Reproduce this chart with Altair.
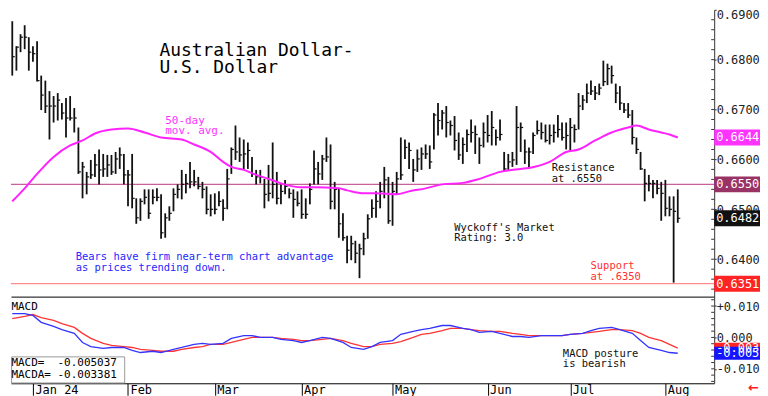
import altair as alt
import pandas as pd

# ---------------- data ----------------
bar_high = [0.6802,0.6825,0.6877,0.6827,0.6851,0.6869,0.6845,0.6827,0.6837,0.6768,
            0.6758,0.6737,0.6727,0.6733,0.6713,0.6723,0.6727,0.6703,0.6664,0.6595,
            0.6575,0.6599,0.6611,0.6620,0.6611,0.6609,0.6609,0.6615,0.6624,0.6611,
            0.6579,0.6611,0.6522,0.6522,0.6540,0.6540,0.6540,0.6542,0.6530,0.6492,
            0.6506,0.6542,0.6550,0.6579,0.6571,0.6595,0.6579,0.6565,0.6555,0.6546,
            0.6530,0.6532,0.6536,0.6520,0.6581,0.6624,0.6668,0.6644,0.6640,0.6634,
            0.6605,0.6579,0.6579,0.6561,0.6589,0.6634,0.6575,0.6550,0.6559,0.6542,
            0.6540,0.6536,0.6540,0.6522,0.6552,0.6618,0.6595,0.6609,0.6644,0.6630,
            0.6555,0.6542,0.6492,0.6447,0.6447,0.6437,0.6431,0.6453,0.6490,0.6520,
            0.6536,0.6555,0.6585,0.6565,0.6555,0.6575,0.6644,0.6640,0.6634,0.6601,
            0.6620,0.6624,0.6630,0.6628,0.6693,0.6713,0.6699,0.6707,0.6678,0.6687,
            0.6654,0.6644,0.6660,0.6680,0.6668,0.6644,0.6674,0.6689,0.6697,0.6660,
            0.6680,0.6615,0.6611,0.6615,0.6707,0.6674,0.6640,0.6624,0.6654,0.6678,
            0.6674,0.6670,0.6670,0.6670,0.6689,0.6674,0.6674,0.6683,0.6670,0.6733,
            0.6729,0.6752,0.6758,0.6747,0.6752,0.6798,0.6792,0.6788,0.6752,0.6747,
            0.6713,0.6713,0.6699,0.6644,0.6615,0.6581,0.6569,0.6559,0.6559,0.6555,
            0.6559,0.6526,0.6526,0.6540]
bar_low = [0.6723,0.6772,0.6768,0.6778,0.6815,0.6821,0.6778,0.6796,0.6756,0.6699,
           0.6693,0.6640,0.6674,0.6678,0.6680,0.6644,0.6678,0.6654,0.6571,0.6522,
           0.6530,0.6561,0.6565,0.6550,0.6565,0.6565,0.6569,0.6571,0.6581,0.6550,
           0.6506,0.6502,0.6471,0.6477,0.6510,0.6481,0.6510,0.6516,0.6441,0.6443,
           0.6477,0.6496,0.6522,0.6520,0.6532,0.6542,0.6546,0.6540,0.6522,0.6490,
           0.6486,0.6490,0.6506,0.6477,0.6500,0.6571,0.6599,0.6595,0.6579,0.6581,
           0.6565,0.6550,0.6552,0.6502,0.6516,0.6522,0.6510,0.6510,0.6530,0.6522,
           0.6483,0.6506,0.6481,0.6481,0.6510,0.6550,0.6550,0.6559,0.6595,0.6500,
           0.6500,0.6443,0.6437,0.6392,0.6398,0.6392,0.6362,0.6408,0.6441,0.6483,
           0.6483,0.6502,0.6522,0.6471,0.6467,0.6530,0.6559,0.6601,0.6581,0.6555,
           0.6575,0.6579,0.6601,0.6581,0.6620,0.6648,0.6660,0.6644,0.6648,0.6618,
           0.6599,0.6591,0.6615,0.6634,0.6611,0.6591,0.6624,0.6634,0.6628,0.6628,
           0.6638,0.6575,0.6579,0.6585,0.6589,0.6615,0.6591,0.6581,0.6611,0.6650,
           0.6640,0.6634,0.6630,0.6634,0.6644,0.6638,0.6620,0.6618,0.6634,0.6660,
           0.6699,0.6713,0.6729,0.6719,0.6729,0.6747,0.6749,0.6752,0.6713,0.6699,
           0.6693,0.6683,0.6630,0.6611,0.6579,0.6516,0.6536,0.6522,0.6530,0.6477,
           0.6486,0.6486,0.6353,0.6473]
bar_close = [0.6798,0.6802,0.6806,0.6825,0.6845,0.6845,0.6815,0.6812,0.6758,0.6729,
             0.6707,0.6707,0.6707,0.6719,0.6693,0.6683,0.6683,0.6683,0.6575,0.6585,
             0.6565,0.6569,0.6589,0.6579,0.6581,0.6589,0.6575,0.6601,0.6609,0.6569,
             0.6569,0.6522,0.6483,0.6516,0.6524,0.6492,0.6524,0.6524,0.6453,0.6483,
             0.6492,0.6530,0.6540,0.6550,0.6552,0.6555,0.6555,0.6546,0.6540,0.6500,
             0.6500,0.6500,0.6516,0.6502,0.6561,0.6620,0.6615,0.6609,0.6611,0.6618,
             0.6571,0.6565,0.6565,0.6530,0.6532,0.6550,0.6522,0.6536,0.6546,0.6532,
             0.6520,0.6512,0.6490,0.6490,0.6540,0.6581,0.6571,0.6601,0.6605,0.6516,
             0.6540,0.6471,0.6443,0.6418,0.6431,0.6412,0.6421,0.6441,0.6481,0.6502,
             0.6516,0.6536,0.6559,0.6477,0.6536,0.6561,0.6569,0.6624,0.6618,0.6579,
             0.6601,0.6611,0.6611,0.6595,0.6689,0.6678,0.6693,0.6674,0.6668,0.6638,
             0.6609,0.6630,0.6650,0.6654,0.6650,0.6628,0.6654,0.6648,0.6664,0.6644,
             0.6650,0.6581,0.6595,0.6599,0.6664,0.6664,0.6615,0.6615,0.6648,0.6658,
             0.6654,0.6638,0.6648,0.6654,0.6660,0.6644,0.6648,0.6664,0.6660,0.6707,
             0.6719,0.6733,0.6737,0.6733,0.6743,0.6756,0.6782,0.6768,0.6733,0.6713,
             0.6699,0.6689,0.6644,0.6620,0.6581,0.6552,0.6552,0.6552,0.6542,0.6532,
             0.6502,0.6500,0.6496,0.6482]

ma_idx = [2,5,8,12,16,19,22,26,30,34,38,43,46,50,53,55,58,61,64,67,72,75,81,83,87,
          90,95,98,102,106,111,115,120,125,127,132,136,139,143,147,151,153,156,159,161,163]
ma_val = [0.6516,0.6542,0.6571,0.6605,0.6628,0.6638,0.6652,0.6660,0.6662,0.6654,
          0.6644,0.6640,0.6630,0.6615,0.6595,0.6585,0.6579,0.6569,0.6561,0.6552,
          0.6544,0.6544,0.6542,0.6538,0.6532,0.6532,0.6530,0.6536,0.6542,0.6550,
          0.6553,0.6561,0.6575,0.6581,0.6583,0.6595,0.6615,0.6620,0.6638,0.6654,
          0.6664,0.6668,0.6660,0.6654,0.6650,0.6644]

macd_idx = [0,2,5,7,9,12,14,17,19,21,24,26,29,31,33,36,38,41,43,46,48,50,53,55,58,
            60,62,65,67,70,72,74,77,79,82,84,87,89,91,94,96,99,101,103,106,108,111,
            113,115,118,120,123,125,127,130,132,135,137,140,142,144,147,149,152,154,
            156,159,161,163]
macd_val = [0.0070,0.0076,0.0076,0.0070,0.0048,0.0035,0.0025,0.0013,-0.0016,-0.0029,
            -0.0035,-0.0032,-0.0032,-0.0041,-0.0048,-0.0044,-0.0048,-0.0038,-0.0032,-0.0022,
            -0.0019,-0.0022,-0.0019,-0.0003,0.0006,0.0006,0.0000,0.0000,-0.0006,-0.0010,
            -0.0016,-0.0010,0.0000,-0.0003,-0.0016,-0.0032,-0.0038,-0.0029,-0.0016,-0.0010,
            0.0010,0.0019,0.0025,0.0029,0.0038,0.0038,0.0029,0.0025,0.0016,0.0019,
            0.0013,0.0003,0.0003,0.0000,0.0006,0.0006,0.0006,0.0010,0.0013,0.0022,
            0.0029,0.0032,0.0025,0.0013,-0.0010,-0.0032,-0.0041,-0.0048,-0.005037]
signal_val = [0.0054,0.0060,0.0067,0.0073,0.0063,0.0054,0.0044,0.0032,0.0013,-0.0003,
              -0.0019,-0.0025,-0.0029,-0.0032,-0.0038,-0.0041,-0.0044,-0.0044,-0.0038,-0.0032,
              -0.0029,-0.0022,-0.0022,-0.0016,-0.0006,0.0000,0.0000,0.0000,-0.0003,-0.0006,
              -0.0010,-0.0010,-0.0006,-0.0003,-0.0010,-0.0019,-0.0029,-0.0029,-0.0022,-0.0019,
              -0.0013,0.0000,0.0010,0.0013,0.0022,0.0029,0.0029,0.0025,0.0022,0.0019,
              0.0019,0.0013,0.0010,0.0006,0.0006,0.0006,0.0006,0.0010,0.0013,0.0016,
              0.0019,0.0025,0.0025,0.0022,0.0013,0.0000,-0.0010,-0.0022,-0.003381]

month_idx = [7, 30, 51, 72, 94, 117, 137, 160]
month_lbl = ["Jan 24", "Feb", "Mar", "Apr", "May", "Jun", "Jul", "Aug"]
price_ticks = [0.64, 0.65, 0.66, 0.67, 0.68, 0.69]
price_minor = [0.634, 0.636, 0.638, 0.640, 0.642, 0.644, 0.646, 0.648, 0.650, 0.652,
               0.654, 0.656, 0.658, 0.660, 0.662, 0.664, 0.666, 0.668, 0.670, 0.672,
               0.674, 0.676, 0.678, 0.680, 0.682, 0.684, 0.686, 0.688]
macd_ticks = [-0.01, 0.0, 0.01]
macd_minor = [-0.014, -0.012, -0.010, -0.008, -0.006, -0.004, -0.002, 0.000,
              0.002, 0.004, 0.006, 0.008, 0.010, 0.012]
resistance = 0.6550
support = 0.6351
hl_price_vals = [0.6644, 0.6550, 0.6482, 0.6351]
hl_price_cols = ["#ff33ff", "#993366", "#111111", "#ff2424"]
hl_macd_vals = [-0.003381, -0.005037]
hl_macd_txt = ["-0.003", "-0.005"]
hl_macd_cols = ["#ff2424", "#1414ff"]
hl_macd_half = [0.0017, 0.0021]
macd_last = -0.005037
macda_last = -0.003381

# ---------------- layout constants ----------------
W, H1, H2 = 706, 288, 87
XDOM = [1.69, 1.69 + 706 / 4.15]
PDOM = [0.6325, 0.6900]
MDOM = [-0.0146, 0.0130]
MONO = "DejaVu Sans Mono"
NB = "\u00a0"
AX = "#333333"

xs = alt.Scale(domain=XDOM, nice=False, zero=False)
ps = alt.Scale(domain=PDOM, nice=False, zero=False)
ms = alt.Scale(domain=MDOM, nice=False, zero=False)
in_view = f"datum.i >= {XDOM[0]}"

x_top_axis = alt.Axis(labels=False, ticks=False, domain=True, domainColor="#000",
                      grid=False, title=None)
expr = "''"
for i, l in reversed(list(zip(month_idx, month_lbl))):
    expr = f"datum.value == {i} ? '{l}' : ({expr})"
x_bot_axis = alt.Axis(values=month_idx, labelExpr=expr, tickSize=12, tickColor="#000",
                      domainColor="#000", labelAlign="left", labelBaseline="top",
                      labelPadding=-11, labelOffset=2, labelFont=MONO, labelFontSize=12,
                      labelColor="#000", grid=False, title=None, labelFlush=False,
                      labelOverlap=False)
p_axis = alt.Axis(orient="right", values=price_ticks, format=".4f", labelFont=MONO,
                  labelFontSize=12, labelColor="#222", tickSize=2, tickColor=AX,
                  domainColor=AX, labelPadding=0, grid=False, title=None,
                  labelFlush=True)
m_expr = ("datum.value > 0.0001 ? '+' + format(datum.value, '.3f') : "
          "(datum.value < -0.0001 ? '-' + format(-datum.value, '.3f') : '\u00a0' + format(0, '.3f'))")
m_axis = alt.Axis(orient="right", values=macd_ticks, labelExpr=m_expr, labelFont=MONO,
                  labelFontSize=12, labelColor="#222", tickSize=2, tickColor=AX,
                  domainColor=AX, labelPadding=0, grid=False, title=None,
                  labelFlush=False)


def xt(f="i"):
    return alt.X(f"{f}:Q", scale=xs, axis=x_top_axis)


def xb(f="i"):
    return alt.X(f"{f}:Q", scale=xs, axis=x_bot_axis)


def py(f):
    return alt.Y(f"{f}:Q", scale=ps, axis=p_axis)


def my(f):
    return alt.Y(f"{f}:Q", scale=ms, axis=m_axis)


# ---------------- price panel ----------------
bars_df = pd.DataFrame({"i": list(range(len(bar_close))), "high": bar_high,
                        "low": bar_low, "close": bar_close})
ma_df = pd.DataFrame({"i": ma_idx, "v": ma_val})
lv_df = pd.DataFrame({"v": [resistance, support], "c": ["#c8609a", "#ff8c8c"]})

levels = alt.Chart(lv_df).mark_rule(strokeWidth=1.2).encode(
    y=py("v"), color=alt.Color("c:N", scale=None))
hl_rule = alt.Chart(bars_df).transform_filter(in_view).mark_rule(
    color="#111", strokeWidth=1.8).encode(x=xt(), y=py("low"), y2="high:Q")
cl_tick = alt.Chart(bars_df).transform_filter(in_view).transform_calculate(
    i2="datum.i + 0.6").mark_rule(color="#111", strokeWidth=1.2).encode(
    x=xt(), x2="i2:Q", y=py("close"))
ma_line = alt.Chart(ma_df).mark_line(color="#ff22ff", strokeWidth=2,
                                     interpolate="monotone").encode(x=xt(), y=py("v"))
p_minor = alt.Chart(pd.DataFrame({"v": price_minor})).mark_rule(
    color=AX, strokeWidth=1).encode(x=alt.value(W - 3), x2=alt.value(W), y=py("v"))


def note(txt, i, v, color, size, lh, xenc, yenc):
    df = pd.DataFrame({"i": [i], "v": [v], "t": [txt]})
    return alt.Chart(df).mark_text(align="left", baseline="alphabetic", font=MONO,
                                   fontSize=size, color=color, lineBreak="\n",
                                   lineHeight=lh).encode(x=xenc("i"), y=yenc("v"), text="t:N")


notes_top = [
    note("Australian Dollar-\nU.S. Dollar", 37.6, 0.6808, "#000", 18, 17, xt, py),
    note("50-day\nmov. avg.", 39.0, 0.6672, "#ff33ff", 11, 10.5, xt, py),
    note("Bears have firm near-term chart advantage\nas prices trending down.",
         17.35, 0.6398, "#2626ff", 10.5, 11, xt, py),
    note("Wyckoff's Market\nRating: 3.0", 108.9, 0.6457, "#111", 10.5, 10.5, xt, py),
    note("Resistance\nat .6550", 132.5, 0.6577, "#111", 10.5, 11, xt, py),
    note("Support\nat .6350", 141.9, 0.6380, "#ff3030", 10.5, 11, xt, py),
]

hp_df = pd.DataFrame({"v": hl_price_vals, "c": hl_price_cols,
                      "t": [f"{v:.4f}" for v in hl_price_vals]})
hp_box = alt.Chart(hp_df).transform_calculate(
    y1="datum.v - 0.0016", y2="datum.v + 0.0016").mark_rect().encode(
    x=alt.value(W), x2=alt.value(752), y=py("y1"), y2="y2:Q",
    color=alt.Color("c:N", scale=None))
hp_txt = alt.Chart(hp_df).mark_text(align="left", baseline="middle", font=MONO,
                                    fontSize=12, color="white").encode(
    x=alt.value(W + 2), y=py("v"), text="t:N")

top = alt.layer(levels, hl_rule, cl_tick, ma_line, p_minor, *notes_top, hp_box,
                hp_txt).properties(width=W, height=H1)

# ---------------- MACD panel ----------------
macd_df = pd.DataFrame({"i": macd_idx, "macd": macd_val, "sig": signal_val})
sig_line = alt.Chart(macd_df).transform_filter(in_view).mark_line(
    color="#ff3434", strokeWidth=1.3).encode(x=xb(), y=my("sig"))
macd_line = alt.Chart(macd_df).transform_filter(in_view).mark_line(
    color="#3434ff", strokeWidth=1.3).encode(x=xb(), y=my("macd"))
m_minor = alt.Chart(pd.DataFrame({"v": macd_minor})).mark_rule(
    color=AX, strokeWidth=1).encode(x=alt.value(W - 3), x2=alt.value(W), y=my("v"))

box_df = pd.DataFrame({"a": [XDOM[0] + 0.15], "b": [29.2], "c": [-0.0062], "d": [-0.0145]})
leg_box = alt.Chart(box_df).mark_rect(fill="white", stroke="#999", strokeWidth=1).encode(
    x=alt.X("a:Q", scale=xs, axis=x_bot_axis), x2="b:Q", y=my("c"), y2="d:Q")

legend_txt = (f"MACD={NB*2}{macd_last:.6f}\n"
              f"MACDA={NB}{macda_last:.6f}")
notes_bot = [
    note("MACD", 1.8, 0.0086, "#000", 11, 12, xb, my),
    note(legend_txt, 1.8, -0.0091, "#000", 11, 12, xb, my),
    note("MACD posture\nis bearish", 135.2, -0.0061, "#111", 10.5, 10, xb, my),
]

hm_df = pd.DataFrame({"v": hl_macd_vals, "c": hl_macd_cols, "t": hl_macd_txt,
                      "h": hl_macd_half})
hm_box = alt.Chart(hm_df).transform_calculate(
    y1="datum.v - datum.h", y2="datum.v + datum.h").mark_rect().encode(
    x=alt.value(W), x2=alt.value(752), y=my("y1"), y2="y2:Q",
    color=alt.Color("c:N", scale=None))
hm_txt = alt.Chart(hm_df).mark_text(align="left", baseline="middle", font=MONO,
                                    fontSize=12, color="white").encode(
    x=alt.value(W + 2), y=my("v"), text="t:N")
arrow = alt.Chart(pd.DataFrame({"t": ["\u2190"]})).mark_text(
    align="left", baseline="middle", font="DejaVu Sans", fontSize=13, fontWeight="bold",
    color="#ff2020").encode(x=alt.value(740), y=alt.value(92), text="t:N")

bottom = alt.layer(sig_line, macd_line, m_minor, leg_box, *notes_bot, hm_box, hm_txt,
                   arrow).properties(width=W, height=H2)

chart = alt.vconcat(top, bottom, spacing=0, bounds="flush").properties(
    padding={"left": 0, "right": 0, "top": 0, "bottom": 0}
).configure_view(stroke=None)

chart.save("out.html", embed_options={"renderer": "svg", "actions": False})
